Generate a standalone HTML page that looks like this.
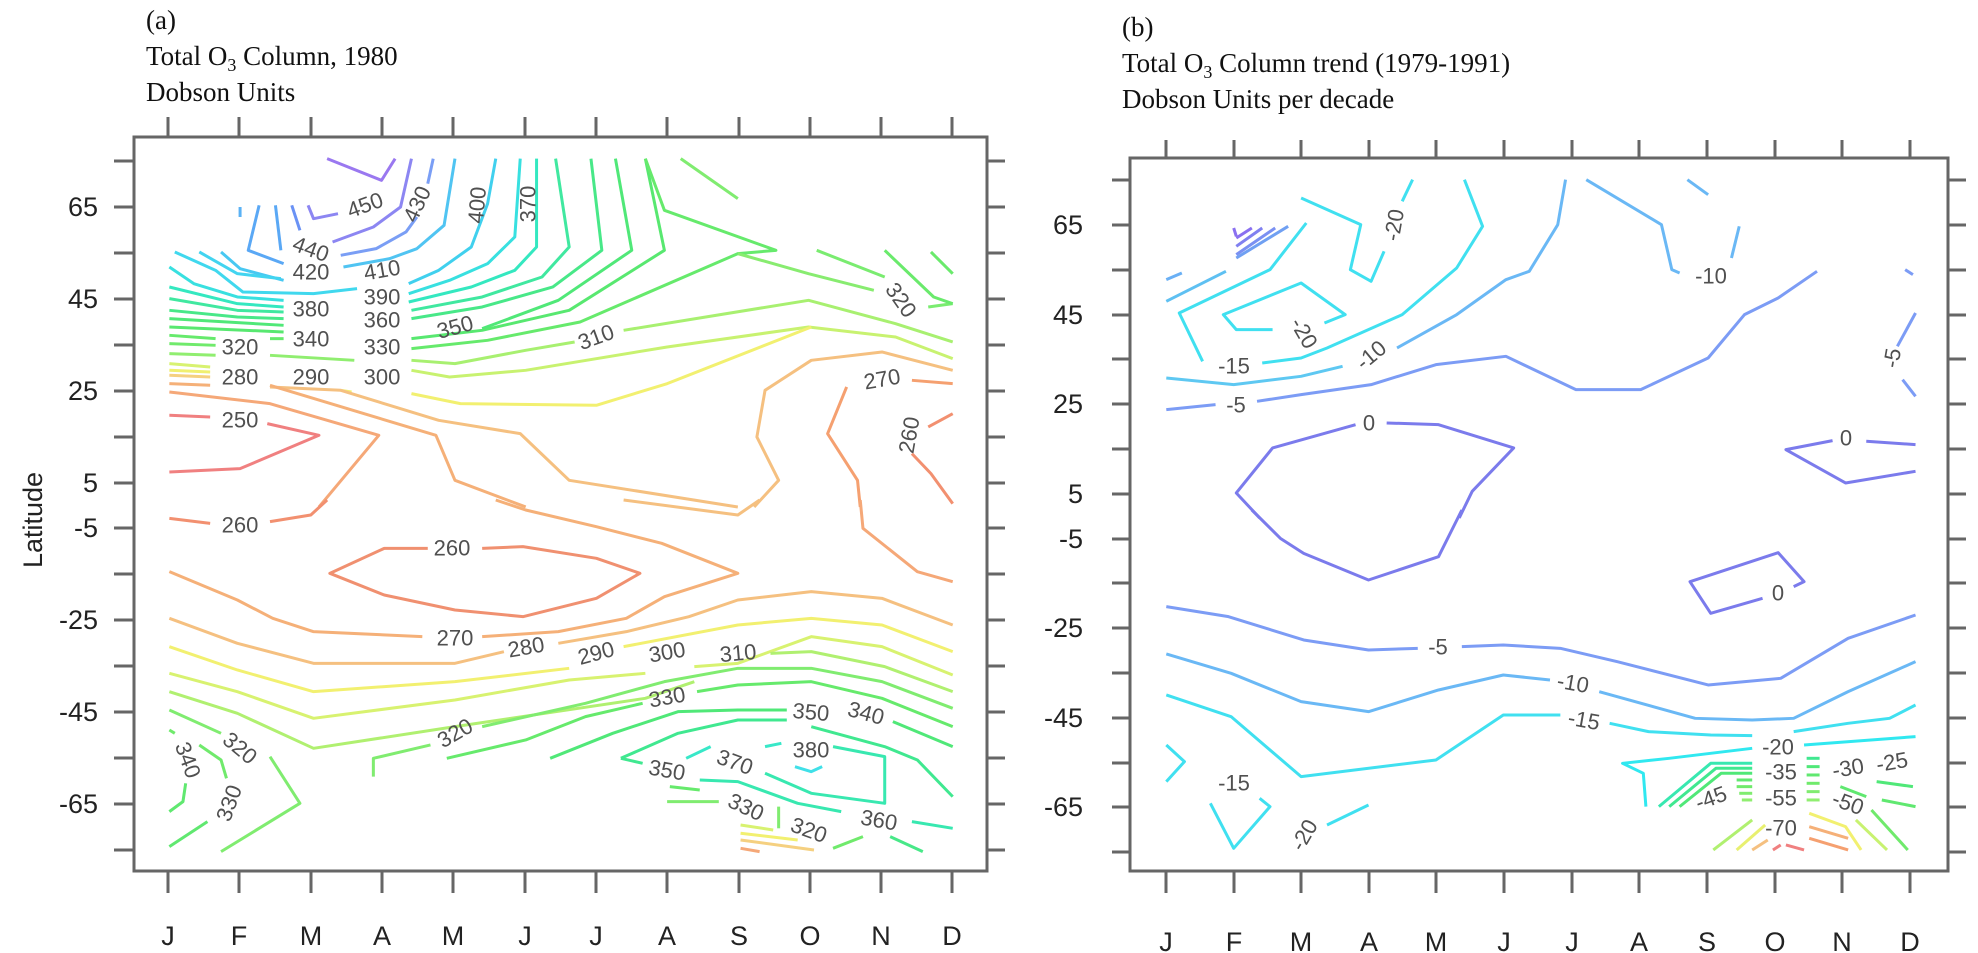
<!DOCTYPE html>
<html><head><meta charset="utf-8"><style>
html,body{margin:0;padding:0;background:#fff;}
svg{display:block;}
.t{font-family:"Liberation Serif",serif;font-size:27px;fill:#111;}
.ax{font-family:"Liberation Sans",sans-serif;font-size:27px;fill:#222;}
.cl{font-family:"Liberation Sans",sans-serif;font-size:22px;fill:#505050;text-anchor:middle;dominant-baseline:central;}
polyline{fill:none;stroke-width:3;vector-effect:non-scaling-stroke;stroke-linejoin:round;}
</style></head><body>
<svg width="1978" height="953" viewBox="0 0 1978 953" xmlns="http://www.w3.org/2000/svg">
<!-- titles -->
<text class="t" x="146" y="29">(a)</text>
<text class="t" x="146" y="65">Total  O<tspan font-size="18" dy="6">3</tspan><tspan dy="-6"> Column, 1980</tspan></text>
<text class="t" x="146" y="101">Dobson Units</text>
<text class="t" x="1122" y="36">(b)</text>
<text class="t" x="1122" y="72">Total  O<tspan font-size="18" dy="6">3</tspan><tspan dy="-6"> Column trend (1979-1991)</tspan></text>
<text class="t" x="1122" y="108">Dobson Units per decade</text>
<text class="ax" font-size="30" transform="translate(42,520) rotate(-90)" text-anchor="middle">Latitude</text>

<!-- LEFT FRAME -->
<g stroke="#666" stroke-width="3" fill="none">
<rect x="134" y="137" width="853" height="734"/>
<path d="M168 117V137M239 117V137M311 117V137M382 117V137M453 117V137M525 117V137M596 117V137M667 117V137M739 117V137M810 117V137M881 117V137M952 117V137
M168 871V893M239 871V893M311 871V893M382 871V893M453 871V893M525 871V893M596 871V893M667 871V893M739 871V893M810 871V893M881 871V893M952 871V893
M114 161H134M114 207H134M114 253H134M114 299H134M114 345H134M114 391H134M114 437H134M114 483H134M114 528H134M114 574H134M114 620H134M114 666H134M114 712H134M114 758H134M114 804H134M114 850H134
M987 161H1005M987 207H1005M987 253H1005M987 299H1005M987 345H1005M987 391H1005M987 437H1005M987 483H1005M987 528H1005M987 574H1005M987 620H1005M987 666H1005M987 712H1005M987 758H1005M987 804H1005M987 850H1005"/>
</g>
<g class="ax" text-anchor="end" dominant-baseline="central">
<text x="98" y="207">65</text><text x="98" y="299">45</text><text x="98" y="391">25</text><text x="98" y="483">5</text><text x="98" y="528">-5</text><text x="98" y="620">-25</text><text x="98" y="712">-45</text><text x="98" y="804">-65</text>
</g>
<g class="ax" text-anchor="middle" dominant-baseline="central">
<text x="168" y="936">J</text><text x="239" y="936">F</text><text x="311" y="936">M</text><text x="382" y="936">A</text><text x="453" y="936">M</text><text x="525" y="936">J</text><text x="596" y="936">J</text><text x="667" y="936">A</text><text x="739" y="936">S</text><text x="810" y="936">O</text><text x="881" y="936">N</text><text x="952" y="936">D</text>
</g>

<!-- RIGHT FRAME -->
<g stroke="#666" stroke-width="3" fill="none">
<rect x="1130" y="158" width="818" height="713"/>
<path d="M1166 140V158M1234 140V158M1301 140V158M1369 140V158M1436 140V158M1504 140V158M1572 140V158M1639 140V158M1707 140V158M1775 140V158M1842 140V158M1910 140V158
M1166 871V893M1234 871V893M1301 871V893M1369 871V893M1436 871V893M1504 871V893M1572 871V893M1639 871V893M1707 871V893M1775 871V893M1842 871V893M1910 871V893
M1112 180H1130M1112 225H1130M1112 270H1130M1112 315H1130M1112 359H1130M1112 404H1130M1112 449H1130M1112 494H1130M1112 539H1130M1112 583H1130M1112 628H1130M1112 673H1130M1112 718H1130M1112 763H1130M1112 807H1130M1112 852H1130
M1948 180H1966M1948 225H1966M1948 270H1966M1948 315H1966M1948 359H1966M1948 404H1966M1948 449H1966M1948 494H1966M1948 539H1966M1948 583H1966M1948 628H1966M1948 673H1966M1948 718H1966M1948 763H1966M1948 807H1966M1948 852H1966"/>
</g>
<g class="ax" text-anchor="end" dominant-baseline="central">
<text x="1083" y="225">65</text><text x="1083" y="315">45</text><text x="1083" y="404">25</text><text x="1083" y="494">5</text><text x="1083" y="539">-5</text><text x="1083" y="628">-25</text><text x="1083" y="718">-45</text><text x="1083" y="807">-65</text>
</g>
<g class="ax" text-anchor="middle" dominant-baseline="central">
<text x="1166" y="942">J</text><text x="1234" y="942">F</text><text x="1301" y="942">M</text><text x="1369" y="942">A</text><text x="1436" y="942">M</text><text x="1504" y="942">J</text><text x="1572" y="942">J</text><text x="1639" y="942">A</text><text x="1707" y="942">S</text><text x="1775" y="942">O</text><text x="1842" y="942">N</text><text x="1910" y="942">D</text>
</g>

<!-- LEFT TOP contours -->
<g transform="translate(134,137) scale(0.544,0.3333)">
<polyline stroke="#9a78f0" points="355,65 455,130 480,65"/>
<polyline stroke="#8c86f2" points="320,205 330,245 375,230"/>
<polyline stroke="#8c86f2" points="365,315 440,270 490,210 510,65"/>
<polyline stroke="#7a9ef5" points="380,355 445,335 500,285 520,240"/>
<polyline stroke="#7a9ef5" points="540,140 550,65"/>
<polyline stroke="#5ab2f5" points="195,210 195,240"/>
<polyline stroke="#5aa8f5" points="230,205 210,340 275,380"/>
<polyline stroke="#5aa8f5" points="260,205 270,340"/>
<polyline stroke="#6a92f5" points="290,205 305,280"/>
<polyline stroke="#50c4f2" points="385,390 470,365 520,335 570,265 590,65"/>
<polyline stroke="#48c8f2" points="160,345 195,395 275,430"/>
<polyline stroke="#42d4f0" points="120,345 190,410 270,425"/>
<polyline stroke="#40d8ee" points="75,345 150,400 200,465 330,470 410,455"/>
<polyline stroke="#40d0ee" points="505,440 560,400 620,330 650,200 665,65"/>
<polyline stroke="#38e0e0" points="65,390 110,440 190,480 275,490"/>
<polyline stroke="#38e0e0" points="505,470 580,430 650,380 700,300 710,65"/>
<polyline stroke="#34e8c0" points="65,450 190,500 275,510"/>
<polyline stroke="#34e8c0" points="505,495 620,450 700,400 740,330 740,65"/>
<polyline stroke="#40e8a0" points="65,485 190,520 275,525"/>
<polyline stroke="#40e8a0" points="510,520 640,480 750,420 800,330 775,65"/>
<polyline stroke="#48e888" points="65,520 190,540 275,545"/>
<polyline stroke="#48e888" points="510,545 640,510 770,450 860,340 840,65"/>
<polyline stroke="#50e878" points="65,545 275,565"/>
<polyline stroke="#50e878" points="640,575 780,490 915,340 885,65"/>
<polyline stroke="#58e870" points="65,570 275,585"/>
<polyline stroke="#58e870" points="510,605 640,580 800,520 975,340 940,65"/>
<polyline stroke="#66ea6c" points="65,595 150,605"/>
<polyline stroke="#66ea6c" points="250,605 275,605"/>
<polyline stroke="#66ea6c" points="510,635 650,610 820,555 1110,350 1180,340 975,220 940,65"/>
<polyline stroke="#80ec70" points="1005,65 1110,185"/>
<polyline stroke="#70ea6c" points="65,620 150,625"/>
<polyline stroke="#90ee70" points="250,655 405,670"/>
<polyline stroke="#90ee70" points="65,650 150,655"/>
<polyline stroke="#a8f070" points="510,670 590,680 720,640 810,615"/>
<polyline stroke="#a8f070" points="900,580 1240,490 1400,560 1505,615"/>
<polyline stroke="#7aec70" points="1255,340 1380,420"/>
<polyline stroke="#7aec70" points="1460,510 1505,500"/>
<polyline stroke="#6aea6c" points="1380,340 1470,480 1505,500"/>
<polyline stroke="#6aea6c" points="1465,345 1505,410"/>
<polyline stroke="#88ec70" points="1110,350 1240,410 1360,460"/>
<polyline stroke="#c8f270" points="510,700 580,720 720,700 980,630 1240,570 1400,600 1505,665"/>
<polyline stroke="#d8f270" points="65,680 140,690"/>
<polyline stroke="#f2f070" points="510,770 600,800 850,805 980,740 1245,570"/>
<polyline stroke="#f0f070" points="65,700 140,705"/>
<polyline stroke="#f2f070" points="380,760 400,765"/>
<polyline stroke="#f5d080" points="65,715 140,720"/>
<polyline stroke="#f5c080" points="250,750 380,760 560,850 710,890 800,1030 1110,1110"/>
<polyline stroke="#f5c080" points="1140,1110 1185,1030 1145,900 1160,760 1245,670 1375,645 1505,700"/>
<polyline stroke="#f5b078" points="65,740 140,745"/>
<polyline stroke="#f5a878" points="65,765 250,800 450,895 340,1110"/>
<polyline stroke="#f5b078" points="250,745 555,895 590,1030 720,1110"/>
<polyline stroke="#f5a070" points="1335,1110 1330,1030 1275,890 1310,750"/>
<polyline stroke="#f5a070" points="1430,730 1505,740"/>
<polyline stroke="#f29070" points="1460,870 1505,830"/>
<polyline stroke="#f29070" points="1505,1100 1465,1010 1430,950"/>
<polyline stroke="#f08080" points="65,835 140,840"/>
<polyline stroke="#f08080" points="245,860 340,895 195,995 65,1005"/>
</g>
<!-- LEFT BOTTOM contours -->
<g transform="translate(134,500) scale(0.544,0.3333)">
<polyline stroke="#f29070" points="65,55 140,70"/>
<polyline stroke="#f29070" points="250,65 325,45 355,0"/>
<polyline stroke="#f09070" points="540,145 460,145 360,220 460,285 590,330 715,350 850,295 930,220 850,175 715,140 640,145"/>
<polyline stroke="#f5b078" points="65,215 190,300 255,355 330,395 530,410"/>
<polyline stroke="#f5b078" points="640,410 780,395 905,355 975,290 1110,220 970,130 850,80 720,30 665,0"/>
<polyline stroke="#f5c080" points="65,355 190,430 330,490 590,490 680,455"/>
<polyline stroke="#f5c080" points="780,430 905,395 1020,350 1110,300 1245,275 1375,295 1505,375"/>
<polyline stroke="#f5c080" points="900,0 1110,45 1150,0"/>
<polyline stroke="#f5a878" points="1335,0 1340,85 1440,215 1505,245"/>
<polyline stroke="#f2f070" points="65,440 190,510 330,575 590,545 800,505"/>
<polyline stroke="#f2f070" points="900,440 1110,375 1245,355 1375,375 1505,455"/>
<polyline stroke="#d8f270" points="65,520 190,575 330,655 590,600 800,540 940,520"/>
<polyline stroke="#d8f270" points="1030,500 1110,490 1245,410 1375,440 1505,525"/>
<polyline stroke="#b0f070" points="65,575 190,640 330,745 590,680 940,595 1030,545"/>
<polyline stroke="#b0f070" points="1170,460 1245,455 1380,500 1505,575"/>
<polyline stroke="#80ec70" points="65,630 160,700"/>
<polyline stroke="#80ec70" points="250,770 305,910 160,1055"/>
<polyline stroke="#80ec70" points="440,830 440,775 545,735"/>
<polyline stroke="#80ec70" points="640,680 830,610 975,545 1110,505 1245,505 1375,545 1505,625"/>
<polyline stroke="#66ea6c" points="575,775 720,720 830,650 935,610"/>
<polyline stroke="#66ea6c" points="1035,575 1110,555 1245,545 1375,595 1505,680"/>
<polyline stroke="#50e878" points="765,775 880,700 1000,635 1110,630 1200,630"/>
<polyline stroke="#50e878" points="1395,665 1505,740"/>
<polyline stroke="#40e890" points="895,775 1000,700 1110,660 1200,660"/>
<polyline stroke="#40e890" points="1245,680 1380,740 1440,780 1505,890"/>
<polyline stroke="#40e890" points="895,775 935,790"/>
<polyline stroke="#38e8b0" points="1040,840 1110,845 1220,910 1300,935"/>
<polyline stroke="#38e8b0" points="1430,965 1505,985"/>
<polyline stroke="#38e8b0" points="1160,820 1245,880 1380,910 1380,770 1285,740"/>
<polyline stroke="#38e8c8" points="1015,775 1060,740"/>
<polyline stroke="#38e8c8" points="1160,740 1190,730"/>
<polyline stroke="#40e0e8" points="1215,800 1245,815 1265,800"/>
<polyline stroke="#66ea6c" points="985,860 1040,870"/>
<polyline stroke="#80ec70" points="980,905 1075,905"/>
<polyline stroke="#80ec70" points="1185,920 1185,985"/>
<polyline stroke="#d8f270" points="1115,975 1175,990"/>
<polyline stroke="#f2f070" points="1115,1000 1220,1020"/>
<polyline stroke="#f5d080" points="1115,1020 1250,1050"/>
<polyline stroke="#f5a878" points="1115,1045 1150,1055"/>
<polyline stroke="#70ea6c" points="1285,1045 1340,1010"/>
<polyline stroke="#48e888" points="1390,1010 1450,1055"/>
<polyline stroke="#70ea6c" points="65,690 75,700"/>
<polyline stroke="#60e870" points="65,935 90,905 95,850"/>
<polyline stroke="#60e870" points="65,1040 135,965"/>
<polyline stroke="#70ea6c" points="120,735 160,780 170,835"/>
</g>

<!-- RIGHT TOP contours -->
<g transform="translate(1130,158) scale(0.5185,0.3333)">
<polyline stroke="#8a70f0" points="200,210 205,235"/>
<polyline stroke="#8a70f0" points="205,240 235,210"/>
<polyline stroke="#8080f0" points="205,265 255,210"/>
<polyline stroke="#7a90f2" points="205,290 280,210"/>
<polyline stroke="#70a0f2" points="205,300 305,205"/>
<polyline stroke="#6ab0f5" points="70,365 100,345"/>
<polyline stroke="#5ec0f2" points="70,430 185,340"/>
<polyline stroke="#40e0f0" points="330,120 445,200 425,335 465,370 490,280"/>
<polyline stroke="#40e0f0" points="525,130 545,65"/>
<polyline stroke="#40e0f0" points="340,195 270,335 95,465 140,610"/>
<polyline stroke="#40e0f0" points="255,615 330,600 380,570 525,470 630,330 680,205 645,65"/>
<polyline stroke="#40e0f0" points="275,515 205,515 180,470 330,375 415,470 375,495"/>
<polyline stroke="#5ec8f2" points="70,660 200,680 330,655 410,625"/>
<polyline stroke="#6ab8f5" points="515,570 630,470 725,365 770,340 825,200 840,65"/>
<polyline stroke="#6ab8f5" points="880,65 1025,200 1045,335 1060,345"/>
<polyline stroke="#6ab8f5" points="1160,300 1175,205"/>
<polyline stroke="#6ab8f5" points="1075,65 1115,110"/>
<polyline stroke="#7c9cf5" points="70,755 165,740"/>
<polyline stroke="#7c9cf5" points="245,730 330,710 465,680 590,620 725,595 860,695 985,695 1115,600 1185,470 1250,420 1325,340"/>
<polyline stroke="#7c9cf5" points="1495,335 1510,350"/>
<polyline stroke="#7c9cf5" points="1515,465 1480,565"/>
<polyline stroke="#7c9cf5" points="1490,665 1515,715"/>
<polyline stroke="#7b7bec" points="435,800 275,870 205,1005 250,1080"/>
<polyline stroke="#7b7bec" points="495,795 595,800 740,870 660,1000 635,1080"/>
<polyline stroke="#7b7bec" points="1355,848 1265,875 1380,975 1515,940"/>
<polyline stroke="#7b7bec" points="1420,850 1515,860"/>
</g>
<!-- RIGHT BOTTOM contours -->
<g transform="translate(1130,510) scale(0.5185,0.3333)">
<polyline stroke="#7b7bec" points="235,0 290,85 335,130 460,210 595,140 640,0"/>
<polyline stroke="#7b7bec" points="1280,230 1300,215 1250,128 1080,215 1120,310 1220,265"/>
<polyline stroke="#7c9cf5" points="70,290 190,320 335,390 460,420 555,415"/>
<polyline stroke="#7c9cf5" points="640,410 720,405 830,415 940,455 1115,525 1255,505 1385,385 1515,315"/>
<polyline stroke="#6ab8f5" points="70,432 195,490 330,575 460,605 595,540 720,495 810,510"/>
<polyline stroke="#6ab8f5" points="905,545 1090,625 1200,630 1280,625 1385,545 1515,455"/>
<polyline stroke="#40e0f0" points="70,555 195,620 330,800 590,750 720,615 830,615"/>
<polyline stroke="#40e0f0" points="925,640 1000,665 1120,675 1200,677"/>
<polyline stroke="#40e0f0" points="1280,665 1385,640 1465,625 1515,585"/>
<polyline stroke="#30e8f0" points="995,890 990,790 950,760 1040,745 1200,715"/>
<polyline stroke="#30e8f0" points="1300,705 1515,680"/>
<polyline stroke="#40e0f0" points="70,705 105,755 70,815"/>
<polyline stroke="#40e0f0" points="155,880 200,1015 270,890 250,865"/>
<polyline stroke="#40e0f0" points="380,945 460,885"/>
<polyline stroke="#38e8b0" points="1020,890 1120,760 1200,760"/>
<polyline stroke="#40e890" points="1040,890 1130,775 1200,775"/>
<polyline stroke="#50e878" points="1060,890 1140,790 1200,790"/>
<polyline stroke="#60e870" points="1170,810 1200,810"/>
<polyline stroke="#70ea6c" points="1170,830 1200,830"/>
<polyline stroke="#80ec70" points="1175,850 1200,850"/>
<polyline stroke="#90ee70" points="1180,870 1200,870"/>
<polyline stroke="#40e890" points="1305,745 1330,745"/>
<polyline stroke="#50e878" points="1305,770 1330,770"/>
<polyline stroke="#60e870" points="1305,795 1330,795"/>
<polyline stroke="#70ea6c" points="1305,820 1330,820"/>
<polyline stroke="#80ec70" points="1305,845 1330,845"/>
<polyline stroke="#90ee70" points="1305,870 1330,870"/>
<polyline stroke="#b0f070" points="1125,1020 1200,930"/>
<polyline stroke="#e8f070" points="1170,1020 1225,945"/>
<polyline stroke="#f5c080" points="1200,1020 1230,990"/>
<polyline stroke="#f08080" points="1240,1020 1255,1005"/>
<polyline stroke="#f08080" points="1265,1005 1300,1020"/>
<polyline stroke="#f2f070" points="1310,910 1380,950 1410,1020"/>
<polyline stroke="#f5b078" points="1310,950 1385,985"/>
<polyline stroke="#f5a070" points="1310,985 1385,1020"/>
<polyline stroke="#c8f270" points="1400,930 1460,1020"/>
<polyline stroke="#70ea6c" points="1430,900 1500,1020"/>
<polyline stroke="#60e870" points="1450,870 1515,890"/>
<polyline stroke="#50e878" points="1440,815 1510,830"/>
<polyline stroke="#60e870" points="1370,830 1420,860"/>
</g>

<!-- contour labels left -->
<g class="cl">
<text transform="translate(365,205) rotate(-20)">450</text>
<text transform="translate(417,204) rotate(-65)">430</text>
<text transform="translate(477,205) rotate(-85)">400</text>
<text transform="translate(528,204) rotate(-90)">370</text>
<text transform="translate(311,249) rotate(20)">440</text>
<text x="311" y="272">420</text>
<text transform="translate(382,270) rotate(-10)">410</text>
<text x="382" y="297">390</text>
<text x="311" y="309">380</text>
<text x="382" y="320">360</text>
<text x="311" y="339">340</text>
<text x="382" y="347">330</text>
<text transform="translate(455,327) rotate(-15)">350</text>
<text x="240" y="347">320</text>
<text x="240" y="377">280</text>
<text x="311" y="377">290</text>
<text x="382" y="377">300</text>
<text transform="translate(596,337) rotate(-20)">310</text>
<text transform="translate(901,300) rotate(55)">320</text>
<text transform="translate(882,379) rotate(-10)">270</text>
<text transform="translate(909,435) rotate(-80)">260</text>
<text x="240" y="420">250</text>
<text x="240" y="525">260</text>
<text x="452" y="548">260</text>
<text x="455" y="638">270</text>
<text transform="translate(526,647) rotate(-10)">280</text>
<text transform="translate(596,653) rotate(-15)">290</text>
<text transform="translate(667,652) rotate(-10)">300</text>
<text transform="translate(738,653) rotate(-5)">310</text>
<text transform="translate(667,697) rotate(-10)">330</text>
<text transform="translate(455,733) rotate(-30)">320</text>
<text transform="translate(811,712) rotate(5)">350</text>
<text transform="translate(866,713) rotate(15)">340</text>
<text x="811" y="750">380</text>
<text transform="translate(735,762) rotate(20)">370</text>
<text transform="translate(667,770) rotate(10)">350</text>
<text transform="translate(746,807) rotate(25)">330</text>
<text transform="translate(809,830) rotate(20)">320</text>
<text transform="translate(879,820) rotate(10)">360</text>
<text transform="translate(240,748) rotate(40)">320</text>
<text transform="translate(188,760) rotate(70)">340</text>
<text transform="translate(229,803) rotate(-70)">330</text>
</g>
<!-- contour labels right -->
<g class="cl">
<text transform="translate(1394,225) rotate(-80)">-20</text>
<text transform="translate(1304,333) rotate(60)">-20</text>
<text x="1234" y="366">-15</text>
<text transform="translate(1371,355) rotate(-40)">-10</text>
<text x="1711" y="276">-10</text>
<text x="1236" y="405">-5</text>
<text x="1369" y="423">0</text>
<text x="1846" y="438">0</text>
<text transform="translate(1892,358) rotate(-80)">-5</text>
<text x="1778" y="593">0</text>
<text x="1438" y="647">-5</text>
<text transform="translate(1573,683) rotate(10)">-10</text>
<text transform="translate(1584,720) rotate(10)">-15</text>
<text x="1778" y="747">-20</text>
<text x="1781" y="772">-35</text>
<text x="1781" y="798">-55</text>
<text x="1781" y="828">-70</text>
<text transform="translate(1848,768) rotate(-10)">-30</text>
<text transform="translate(1892,762) rotate(-10)">-25</text>
<text transform="translate(1848,803) rotate(20)">-50</text>
<text transform="translate(1711,798) rotate(-20)">-45</text>
<text x="1234" y="783">-15</text>
<text transform="translate(1304,835) rotate(-60)">-20</text>
</g>
</svg>
</body></html>
